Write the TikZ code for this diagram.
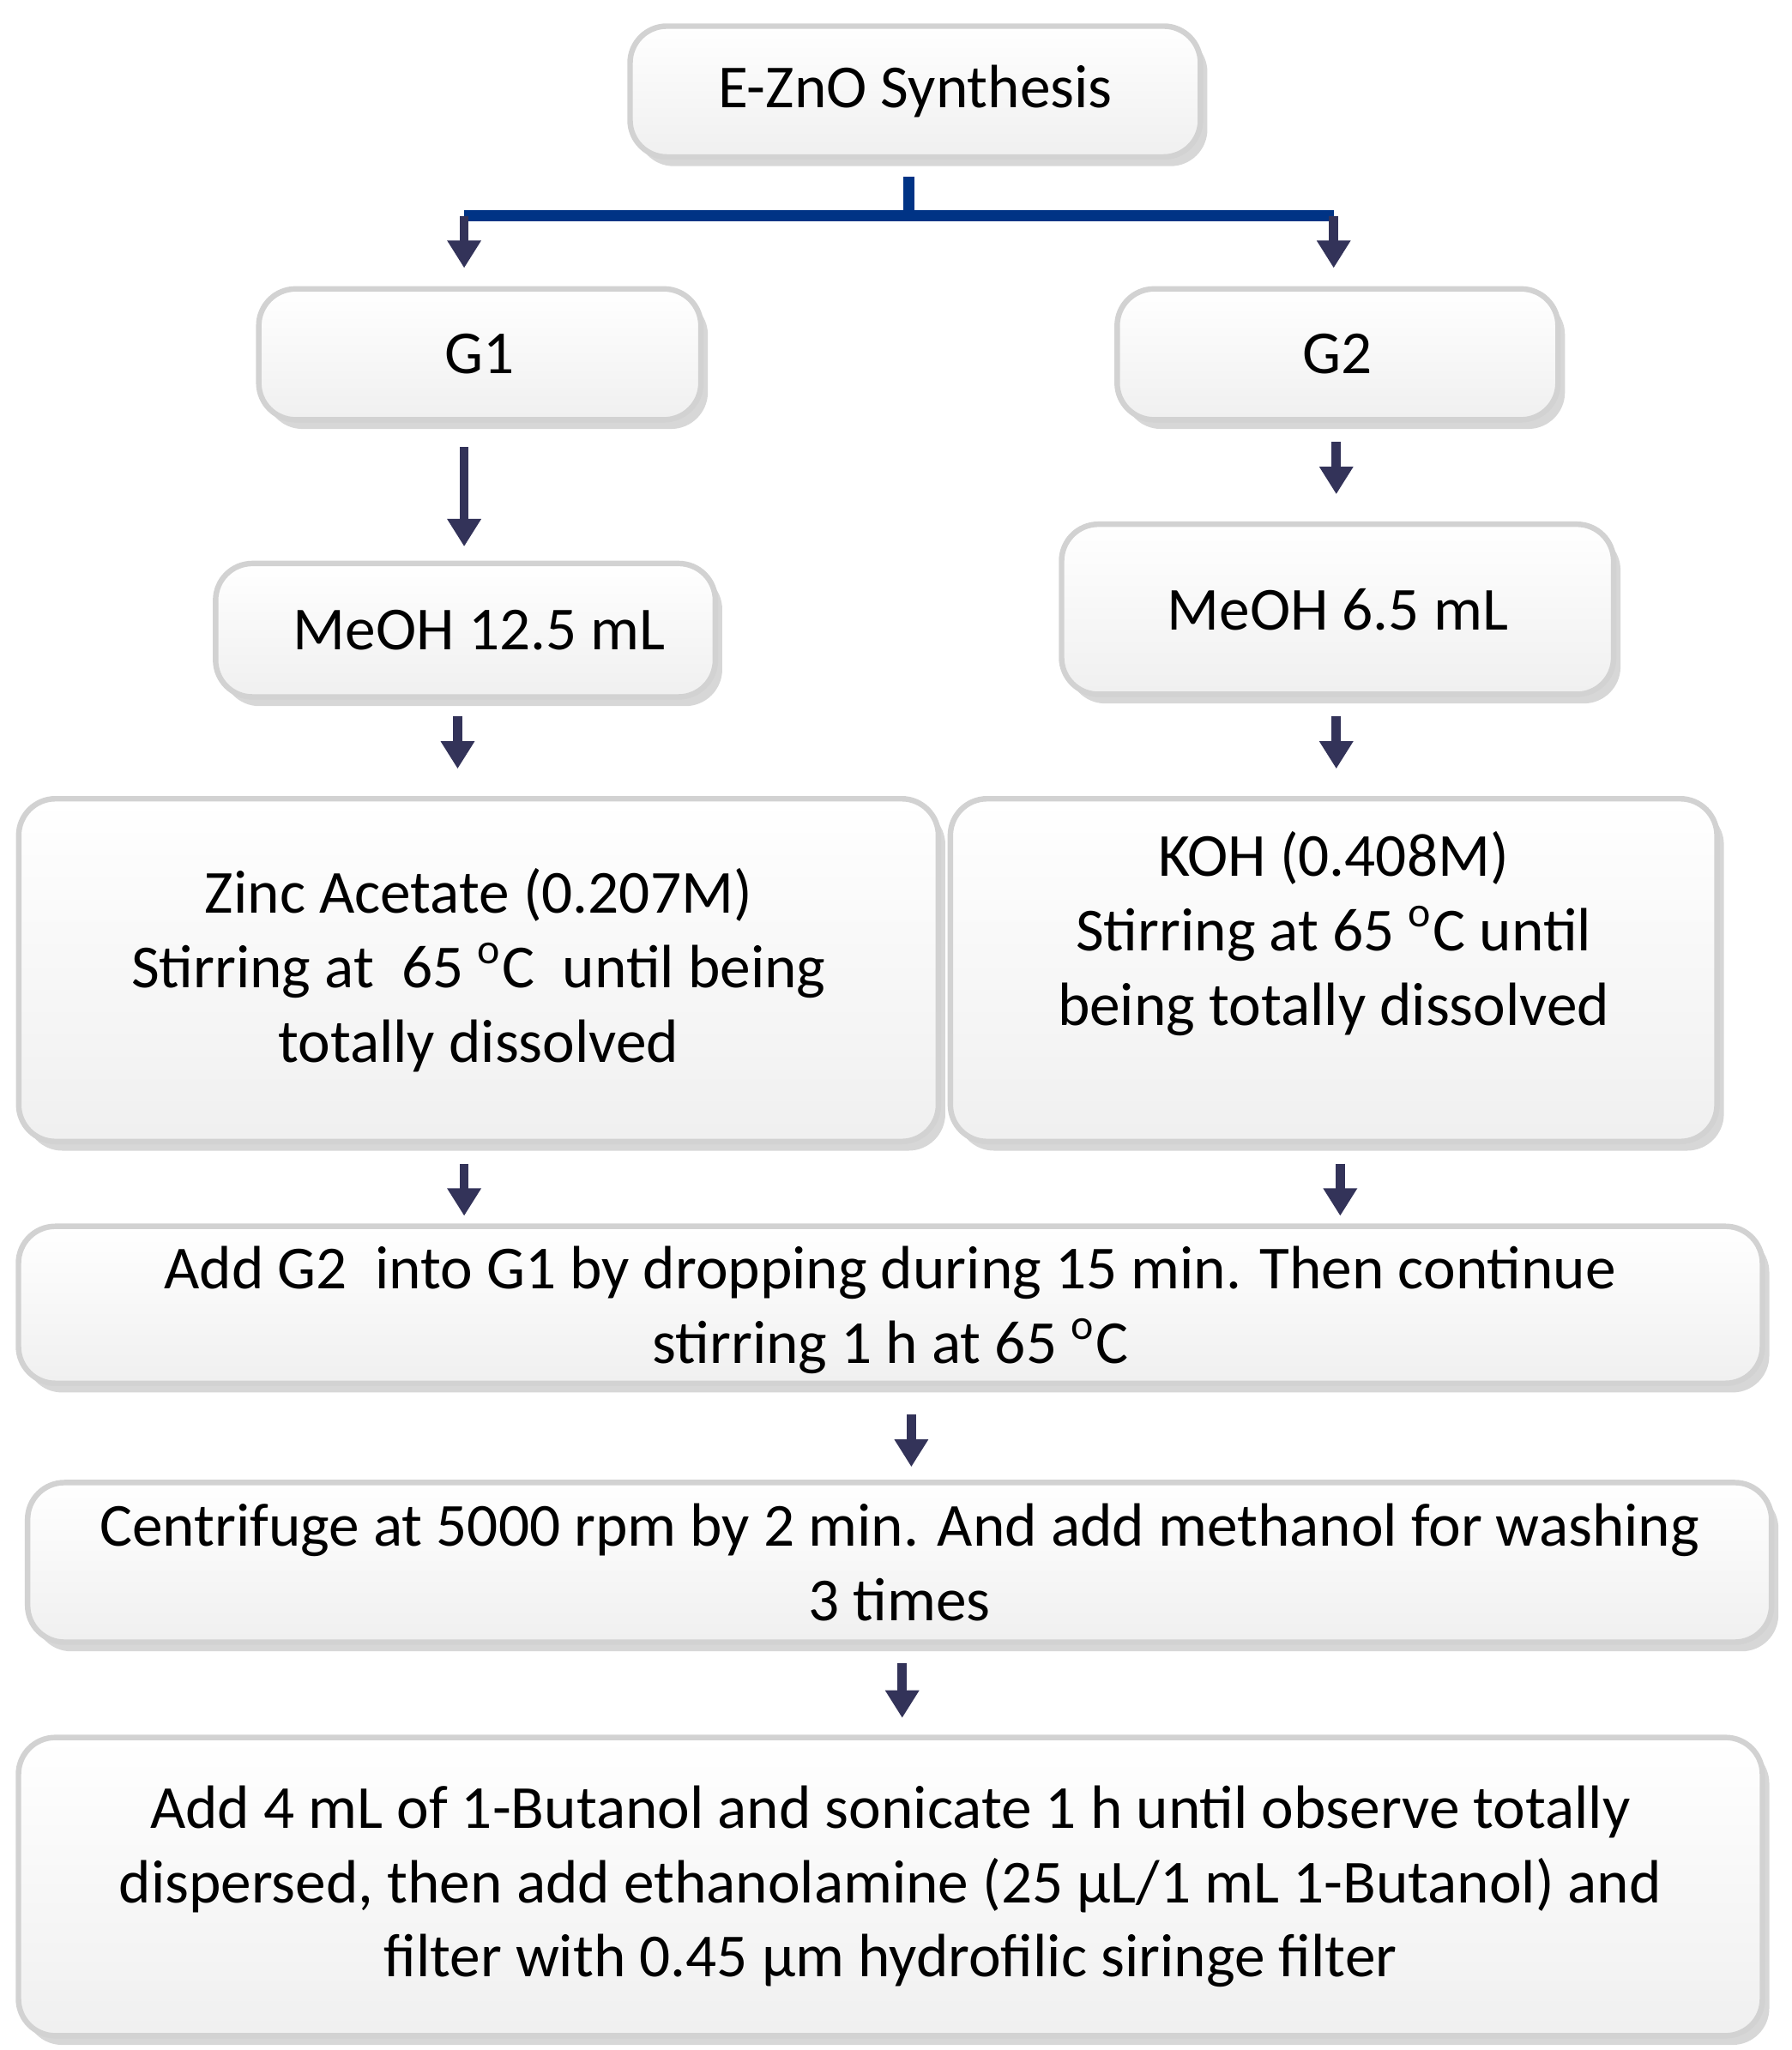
\documentclass[tikz,border=0pt]{standalone}
\usepackage{fontspec}
\setmainfont{Carlito}
\usetikzlibrary{shadows,arrows.meta}
\begin{document}
\begin{tikzpicture}[x=0.01cm,y=-0.01cm,
 box/.style={draw=gray!35,line width=1.2pt,rounded corners=8pt,top color=white,bottom color=gray!12,
   drop shadow={shadow xshift=1.5pt,shadow yshift=-2pt,opacity=0.45,fill=gray!70},
   align=center,font=\fontsize{13.3pt}{16.2pt}\selectfont,inner sep=2pt},
 txt/.style={align=center,font=\fontsize{13.3pt}{16.2pt}\selectfont},
 arr/.style={-{Triangle[width=7pt,length=6pt]},line width=2pt,draw=black!75!blue!60!gray},
 trunk/.style={line width=2.5pt,draw=blue!40!black!80!cyan}]
\useasboundingbox (0,0) rectangle (1370,1568);
\node[box,minimum width=4.36cm,minimum height=1.0cm] (ez) at (700,70) {E-ZnO Synthesis};
\node[box,minimum width=3.38cm,minimum height=1.0cm] (g1) at (367,271) {G1};
\node[box,minimum width=3.37cm,minimum height=1.0cm] (g2) at (1023,271) {G2};
\node[box,minimum width=3.82cm,minimum height=1.02cm] (m1) at (356,482) {\ \ MeOH 12.5 mL};
\node[box,minimum width=4.22cm,minimum height=1.3cm] (m2) at (1023,466) {MeOH 6.5 mL};
\node[box,minimum width=7.03cm,minimum height=2.62cm] (zn) at (366,742) {Zinc Acetate (0.207M)\\Stirring at \ 65 \textsuperscript{o}C \ until being\\totally dissolved};
\node[box,minimum width=5.86cm,minimum height=2.62cm] (koh) at (1020,742) {};
\node[txt] (kohT) at (1020,714) {KOH (0.408M)\\Stirring at 65 \textsuperscript{o}C until\\being totally dissolved};
\node[box,minimum width=13.33cm,minimum height=1.2cm] (add) at (681,998) {};
\node[txt] (addT) at (681,1002) {Add G2 \ into G1 by dropping during 15 min. Then continue\\stirring 1 h at 65 \textsuperscript{o}C};
\node[box,minimum width=13.33cm,minimum height=1.22cm] (cen) at (688,1195) {Centrifuge at 5000 rpm by 2 min. And add methanol for washing\\3 times};
\node[box,minimum width=13.33cm,minimum height=2.28cm] (fin) at (681,1443) {Add 4 mL of 1-Butanol and sonicate 1 h until observe totally\\dispersed, then add ethanolamine (25 μL/1 mL 1-Butanol) and\\filter with 0.45 μm hydrofilic siringe filter};
\coordinate (t0) at (695,135);
\coordinate (tm) at (695,165);
\coordinate (tl) at (355,165);
\coordinate (tr) at (1020,165);
\draw[trunk] (t0) -- (tm) (tl) -- (tr);
\draw[arr] (tl) -- ++(0,40);
\draw[arr] (tr) -- ++(0,40);
\draw[arr] (355,342) -- (355,418);
\draw[arr] (1022,338) -- (1022,378);
\draw[arr] (350,548) -- (350,588);
\draw[arr] (1022,548) -- (1022,588);
\draw[arr] (355,890) -- (355,930);
\draw[arr] (1025,890) -- (1025,930);
\draw[arr] (697,1082) -- (697,1122);
\draw[arr] (690,1272) -- (690,1314);
\end{tikzpicture}
\end{document}
